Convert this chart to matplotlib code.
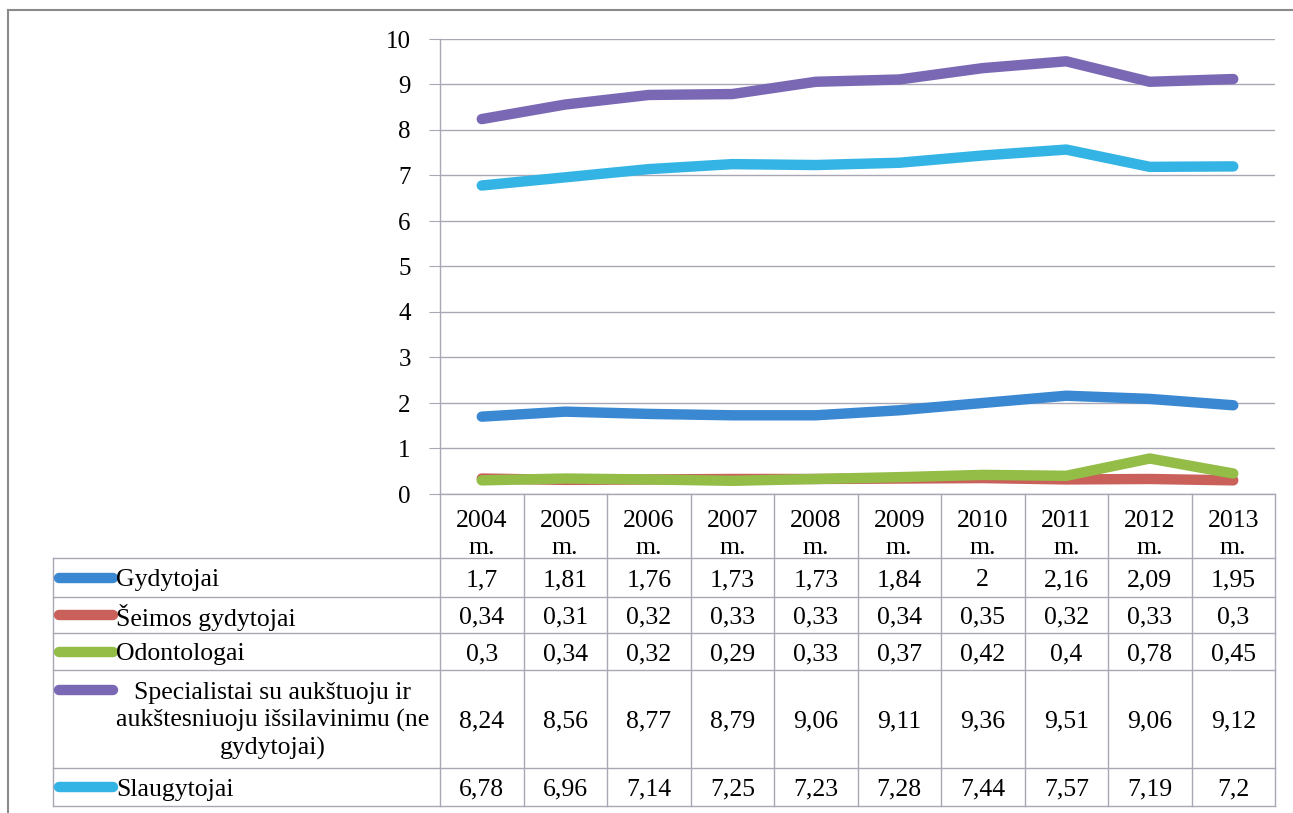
import matplotlib.pyplot as plt
from matplotlib.lines import Line2D

plt.rcParams['font.family'] = ['Liberation Serif', 'DejaVu Serif']

years = ['2004', '2005', '2006', '2007', '2008', '2009', '2010', '2011', '2012', '2013']
series_names = ['Gydytojai', 'Šeimos gydytojai', 'Odontologai',
                'Specialistai su aukštuoju ir\naukštesniuoju išsilavinimu (ne\ngydytojai)',
                'Slaugytojai']
gydytojai = [1.7, 1.81, 1.76, 1.73, 1.73, 1.84, 2, 2.16, 2.09, 1.95]
seimos = [0.34, 0.31, 0.32, 0.33, 0.33, 0.34, 0.35, 0.32, 0.33, 0.3]
odontologai = [0.3, 0.34, 0.32, 0.29, 0.33, 0.37, 0.42, 0.4, 0.78, 0.45]
specialistai = [8.24, 8.56, 8.77, 8.79, 9.06, 9.11, 9.36, 9.51, 9.06, 9.12]
slaugytojai = [6.78, 6.96, 7.14, 7.25, 7.23, 7.28, 7.44, 7.57, 7.19, 7.2]
colors = ['#3a88d2', '#c9615a', '#93bd47', '#7a68b4', '#33b4e4']

all_series = [gydytojai, seimos, odontologai, specialistai, slaugytojai]

W, H = 1293, 813
fig = plt.figure(figsize=(W / 100, H / 100), dpi=100)

# pixel-space overlay for border and table
ov = fig.add_axes([0, 0, 1, 1])
ov.set_xlim(0, W)
ov.set_ylim(H, 0)
ov.axis('off')

# plot area in pixels
px0, px1 = 440, 1275
py_top, py0 = 39, 494
grid_c = '#a9a7b6'
ax = fig.add_axes([px0 / W, 1 - py0 / H, (px1 - px0) / W, (py0 - py_top) / H])
ax.set_xlim(-0.5, len(years) - 0.5)
ax.set_ylim(0, 10)
ax.set_yticks(range(0, 11))
ax.set_xticks([])
for s in ['top', 'right', 'bottom']:
    ax.spines[s].set_visible(False)
ax.spines['left'].set_color(grid_c)
ax.spines['left'].set_linewidth(1)
ax.tick_params(axis='y', length=8, color=grid_c, labelsize=18, pad=13)
ax.grid(axis='y', color=grid_c, linewidth=1)
ax.set_axisbelow(True)
ax.patch.set_alpha(0)

x = list(range(len(years)))
# draw order: so that lower series overlap like the original
order = [1, 2, 0, 4, 3]
for i in order:
    ax.plot(x, all_series[i], color=colors[i], linewidth=7.5,
            solid_capstyle='round', solid_joinstyle='round', zorder=3)

# outer border
ov.add_line(Line2D([8, 8], [10, H + 5], color='#8a8a8a', lw=1.5))
ov.add_line(Line2D([8, W + 5], [10, 10], color='#8a8a8a', lw=1.5))

# table
col_w = (px1 - px0) / len(years)
tbl_left = 53
row_edges = [494, 558, 597, 633, 670, 768, 806]
fs = 18.5

# horizontal lines
ov.add_line(Line2D([px0, px1], [row_edges[0]] * 2, color=grid_c, lw=1))
for y in row_edges[1:]:
    ov.add_line(Line2D([tbl_left, px1], [y, y], color=grid_c, lw=1))
# vertical lines
for k in range(len(years) + 1):
    xx = px0 + k * col_w
    ov.add_line(Line2D([xx, xx], [row_edges[0], row_edges[-1]], color=grid_c, lw=1))
ov.add_line(Line2D([tbl_left, tbl_left], [row_edges[1], row_edges[-1]], color=grid_c, lw=1))

# header
for k, yr in enumerate(years):
    cx = px0 + (k + 0.5) * col_w
    ov.text(cx, 518, yr, ha='center', va='center_baseline', fontsize=fs)
    ov.text(cx, 545, 'm.', ha='center', va='center_baseline', fontsize=fs)

# rows
for r, name in enumerate(series_names):
    top, bot = row_edges[r + 1], row_edges[r + 2]
    cy = (top + bot) / 2
    if '\n' in name:
        key_y = top + 20
        ov.text(273, cy + 2, name, ha='center', va='center', fontsize=fs,
                multialignment='center', linespacing=1.25)
    else:
        key_y = cy
        ov.text(116, cy, name, ha='left', va='center_baseline', fontsize=fs)
    ov.add_line(Line2D([59, 113], [key_y, key_y], color=colors[r], lw=7.5,
                       solid_capstyle='round'))
    for k, v in enumerate(all_series[r]):
        cx = px0 + (k + 0.5) * col_w
        ov.text(cx, cy, f'{v:g}'.replace('.', ','), ha='center',
                va='center_baseline', fontsize=fs)

fig.savefig('out.png', dpi=100)
